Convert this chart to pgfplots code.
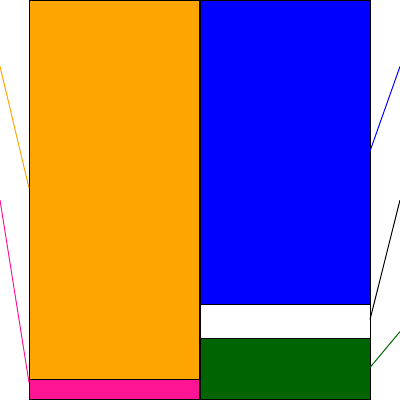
\documentclass[border=0pt]{standalone}
\usepackage{pgfplots}
\pgfplotsset{compat=1.18}
\definecolor{barorange}{HTML}{FFA500}
\definecolor{barpink}{HTML}{FF1493}
\definecolor{barblue}{HTML}{0000FF}
\definecolor{bargreen}{HTML}{006400}
\begin{document}
\begin{tikzpicture}
  \begin{axis}[
      width=10cm, height=10cm,
      scale only axis,
      xmin=0, xmax=400,
      ymin=-0.15, ymax=100.15,
      axis lines=none,
      ticks=none,
      clip=false,
      ybar stacked,
      bar width=170.5,
    ]
    % bottom segments
    \addplot[fill=barpink, draw=black, line width=0.75pt]
      coordinates {(114.75,5) (285.25,0)};
    \addplot[fill=bargreen, draw=black, line width=0.75pt]
      coordinates {(114.75,0) (285.25,15.25)};
    \addplot[fill=white, draw=black, line width=0.75pt]
      coordinates {(114.75,0) (285.25,8.5)};
    \addplot[fill=barorange, draw=black, line width=0.75pt]
      coordinates {(114.75,95) (285.25,0)};
    \addplot[fill=barblue, draw=black, line width=0.75pt]
      coordinates {(114.75,0) (285.25,76.25)};
  \end{axis}
  \begin{axis}[
      width=10cm, height=10cm,
      scale only axis,
      xmin=0, xmax=400,
      ymin=-0.15, ymax=100.15,
      axis lines=none,
      ticks=none,
      clip=false,
    ]
    % leader lines
    \addplot[barorange, line width=0.7pt] coordinates {(0,83.5) (29,53)};
    \addplot[barpink, line width=0.7pt] coordinates {(0,50) (29,4.25)};
    \addplot[barblue, line width=0.7pt] coordinates {(370,62.25) (400,83.5)};
    \addplot[black, line width=0.7pt] coordinates {(370,20) (400,50)};
    \addplot[bargreen, line width=0.7pt] coordinates {(370,8) (400,17)};
  \end{axis}
  \pgfresetboundingbox
  \useasboundingbox (current axis.south west) rectangle (current axis.north east);
\end{tikzpicture}
\end{document}
